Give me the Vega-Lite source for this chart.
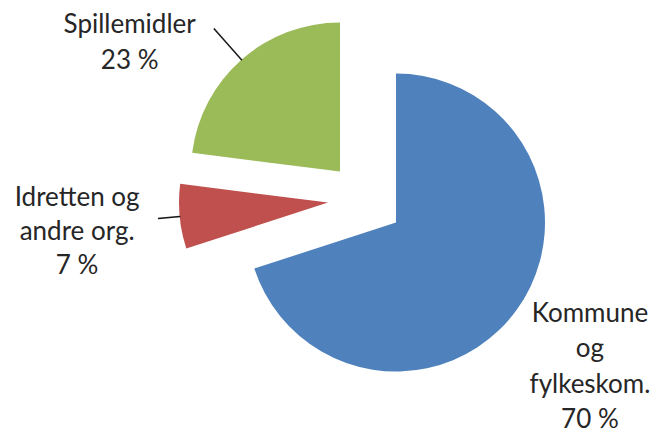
{
  "$schema": "https://vega.github.io/schema/vega-lite/v6.json",
  "width": 654,
  "height": 433,
  "autosize": {"type": "fit", "contains": "padding"},
  "padding": 0,
  "background": "white",
  "config": {"view": {"stroke": null}},
  "data": {
    "values": [
      {"cat": "Kommune og fylkeskom.", "value": 70, "order": 1, "label": "Kommune\nog\nfylkeskom.\n70 %"},
      {"cat": "Idretten og andre org.", "value": 7, "order": 2, "label": "Idretten og\nandre org.\n7 %"},
      {"cat": "Spillemidler", "value": 23, "order": 3, "label": "Spillemidler\n23 %"}
    ]
  },
  "transform": [
    {"stack": "value", "groupby": [], "sort": [{"field": "order", "order": "ascending"}], "as": ["start", "end"]}
  ],
  "layer": [
    {
      "transform": [{"filter": "datum.order == 1"}],
      "mark": {"type": "arc", "outerRadius": 149, "xOffset": 69, "yOffset": 6.5},
      "encoding": {
        "theta": {"field": "start", "type": "quantitative", "scale": {"domain": [0, 100], "range": [0, 6.283185307]}},
        "theta2": {"field": "end"},
        "color": {"field": "cat", "type": "nominal", "legend": null,
          "scale": {"domain": ["Kommune og fylkeskom.", "Idretten og andre org.", "Spillemidler"], "range": ["#4F81BD", "#C0504D", "#9BBB59"]}}
      }
    },
    {
      "transform": [{"filter": "datum.order == 2"}],
      "mark": {"type": "arc", "outerRadius": 149, "xOffset": 1, "yOffset": -13.5},
      "encoding": {
        "theta": {"field": "start", "type": "quantitative"},
        "theta2": {"field": "end"},
        "color": {"field": "cat", "type": "nominal", "legend": null}
      }
    },
    {
      "transform": [{"filter": "datum.order == 3"}],
      "mark": {"type": "arc", "outerRadius": 149, "xOffset": 13, "yOffset": -44.5},
      "encoding": {
        "theta": {"field": "start", "type": "quantitative"},
        "theta2": {"field": "end"},
        "color": {"field": "cat", "type": "nominal", "legend": null}
      }
    },
    {
      "transform": [{"filter": "datum.order == 2"}],
      "mark": {"type": "arc", "innerRadius": 149, "outerRadius": 170, "thetaOffset": 0.2199, "theta2Offset": -0.2199, "xOffset": 1, "yOffset": -13.5, "fill": "transparent", "stroke": "#1a1a1a", "strokeWidth": 1.5},
      "encoding": {
        "theta": {"field": "start", "type": "quantitative"},
        "theta2": {"field": "end"}
      }
    },
    {
      "transform": [{"filter": "datum.order == 3"}],
      "mark": {"type": "arc", "innerRadius": 149, "outerRadius": 190, "thetaOffset": 0.7226, "theta2Offset": -0.7226, "xOffset": 13, "yOffset": -44.5, "fill": "transparent", "stroke": "#1a1a1a", "strokeWidth": 1.5},
      "encoding": {
        "theta": {"field": "start", "type": "quantitative"},
        "theta2": {"field": "end"}
      }
    },
    {
      "transform": [{"filter": "datum.order == 1"}],
      "mark": {"type": "text", "radius": 215, "thetaOffset": 2.1991, "xOffset": 69, "yOffset": 6.5, "dx": 20, "dy": -27, "align": "center", "baseline": "alphabetic", "lineBreak": "\n", "lineHeight": 35.5, "font": "Lato", "fontSize": 26, "color": "#262626"},
      "encoding": {
        "theta": {"field": "start", "type": "quantitative"},
        "text": {"field": "label"}
      }
    },
    {
      "transform": [{"filter": "datum.order == 2"}],
      "mark": {"type": "text", "radius": 250, "thetaOffset": 0.2199, "xOffset": 1, "yOffset": -13.5, "dx": -2, "dy": -20, "align": "center", "baseline": "alphabetic", "lineBreak": "\n", "lineHeight": 34, "font": "Lato", "fontSize": 26, "color": "#262626"},
      "encoding": {
        "theta": {"field": "start", "type": "quantitative"},
        "text": {"field": "label"}
      }
    },
    {
      "transform": [{"filter": "datum.order == 3"}],
      "mark": {"type": "text", "radius": 244, "thetaOffset": 0.7226, "xOffset": 13, "yOffset": -44.5, "dx": -49, "dy": 45, "align": "center", "baseline": "alphabetic", "lineBreak": "\n", "lineHeight": 36, "font": "Lato", "fontSize": 26, "color": "#262626"},
      "encoding": {
        "theta": {"field": "start", "type": "quantitative"},
        "text": {"field": "label"}
      }
    }
  ]
}
